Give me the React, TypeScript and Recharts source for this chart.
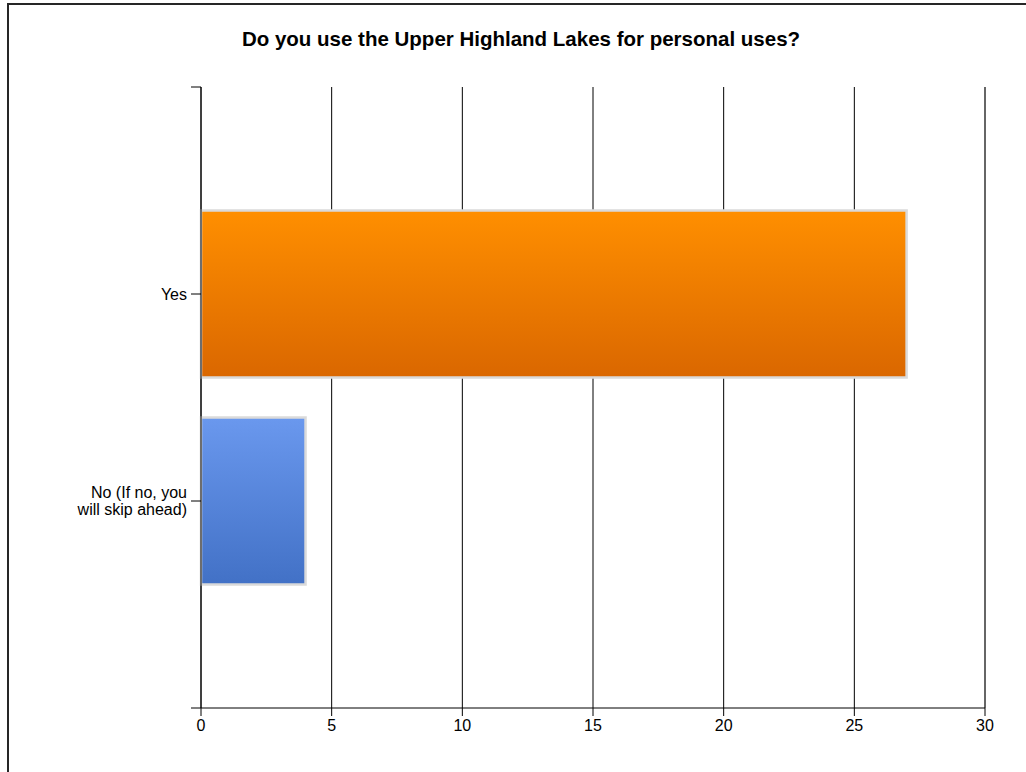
import React from "react";
import { BarChart, Bar, XAxis, YAxis, CartesianGrid, Cell, ReferenceLine } from "recharts";

const title = "Do you use the Upper Highland Lakes for personal uses?";
const categories = ["Yes", "No (If no, you will skip ahead)"];
const categoryLines = [["Yes"], ["No (If no, you", "will skip ahead)"]];
const categoryPositions = [1, 2];
const responses = [27, 4];
const xTicks = [0, 5, 10, 15, 20, 25, 30];
const yTicks = [0, 1, 2, 3];
const gradientTops = ["#FF8F00", "#6A98EE"];
const gradientBottoms = ["#DA6700", "#4271C6"];

const data = categories.map((c, i) => ({ name: c, pos: categoryPositions[i], value: responses[i] }));

const FONT = "'Liberation Sans', Arial, sans-serif";

const YTick = (props: any) => {
  const { x, y, payload } = props;
  const idx = categoryPositions.indexOf(payload.value);
  if (idx < 0) return <g />;
  const lines = categoryLines[idx];
  const lh = 17.5;
  const start = y - ((lines.length - 1) * lh) / 2;
  return (
    <text x={x} y={start} textAnchor="end" fontSize={16} fill="#000" fontFamily={FONT}>
      {lines.map((l, i) => (
        <tspan key={i} x={x} y={start + i * lh} dy="0.355em">
          {l}
        </tspan>
      ))}
    </text>
  );
};

const XTick = (props: any) => {
  const { x, y, payload } = props;
  return (
    <text x={x} y={y} textAnchor="middle" fontSize={16} fill="#000" fontFamily={FONT} dy="0.71em">
      {payload.value}
    </text>
  );
};

export default function App() {
  return (
    <div style={{ position: "absolute", left: 0, top: 0, width: 1026, height: 772, background: "#fff", overflow: "hidden" }}>
      <div
        style={{
          position: "absolute",
          left: 7,
          top: 3,
          width: 1019,
          height: 769,
          borderLeft: "2px solid #262626",
          borderTop: "2px solid #262626",
          boxSizing: "border-box",
        }}
      />
      <svg width={1026} height={772} style={{ position: "absolute", left: 0, top: 0 }}>
        <text x={521} y={46} textAnchor="middle" fontSize={20.5} fontWeight="bold" fill="#000" fontFamily={FONT}>
          {title}
        </text>
      </svg>
      <div style={{ position: "absolute", left: 0, top: 0 }}>
        <BarChart
          width={1026}
          height={772}
          data={data}
          layout="vertical"
          margin={{ top: 87, right: 41, bottom: 0, left: 0 }}
        >
          <defs>
            {gradientTops.map((c, i) => (
              <linearGradient key={i} id={`grad-${i}`} x1="0" y1="0" x2="0" y2="1">
                <stop offset="0%" stopColor={c} />
                <stop offset="100%" stopColor={gradientBottoms[i]} />
              </linearGradient>
            ))}
          </defs>
          <CartesianGrid horizontal={false} stroke="#000" strokeOpacity={1} />
          <XAxis
            type="number"
            domain={[0, 30]}
            ticks={xTicks}
            interval={0}
            height={64}
            tickSize={8}
            tickMargin={4}
            stroke="#000"
            tick={<XTick />}
          />
          <YAxis
            type="number"
            dataKey="pos"
            domain={[0, 3]}
            ticks={yTicks}
            interval={0}
            allowDataOverflow
            width={201}
            tickSize={10}
            tickMargin={4}
            stroke="#000"
            tick={<YTick />}
          />
          <ReferenceLine x={30} stroke="#666" strokeWidth={2} />
          <Bar dataKey="value" barSize={167} stroke="#dadada" strokeWidth={2.5} isAnimationActive={false}>
            {data.map((d, i) => (
              <Cell key={d.name} fill={`url(#grad-${i})`} />
            ))}
          </Bar>
        </BarChart>
      </div>
    </div>
  );
}
